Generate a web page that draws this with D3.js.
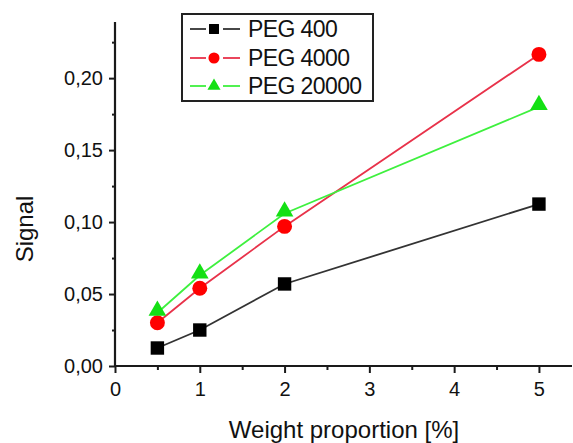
<!DOCTYPE html>
<html>
<head>
<meta charset="utf-8">
<script src="https://cdn.jsdelivr.net/npm/d3@7"></script>
<style>
  html, body { margin: 0; padding: 0; background: #fff; }
  text { font-family: "Liberation Sans", Arial, sans-serif; fill: #111; }
</style>
</head>
<body>
<svg id="chart" width="573" height="443"></svg>
<script>
const xValues = [0.5, 1, 2, 5];
const seriesNames = ["PEG 400", "PEG 4000", "PEG 20000"];
const peg400 = [0.0125, 0.025, 0.057, 0.1125];
const peg4000 = [0.030, 0.054, 0.097, 0.2165];
const peg20000 = [0.037, 0.063, 0.106, 0.180];
const xTicks = [0, 1, 2, 3, 4, 5];
const yTicks = [0, 0.05, 0.10, 0.15, 0.20];
const xTitle = "Weight proportion [%]";
const yTitle = "Signal";

const svg = d3.select("#chart");
const x = d3.scaleLinear().domain([0, 5.39]).range([115, 572]);
const y = d3.scaleLinear().domain([0, 0.239]).range([366, 22]);

const styles = [
  {line: "#333333", fill: "#000000", shape: d3.symbolSquare, size: 180},
  {line: "#e8324a", fill: "#ff0000", shape: d3.symbolCircle, size: 175},
  {line: "#3ef03e", fill: "#14e014", shape: d3.symbolTriangle, size: 135}
];
const seriesData = [peg400, peg4000, peg20000];

// axes
const fmt = v => d3.format(".2f")(v).replace(".", ",");
const yAxis = svg.append("g").attr("transform", "translate(115,0)")
  .call(d3.axisLeft(y).tickValues(yTicks).tickFormat(fmt).tickSize(6).tickPadding(6));
const yMinor = svg.append("g").attr("transform", "translate(115,0)")
  .call(d3.axisLeft(y).tickValues([0.025, 0.075, 0.125, 0.175, 0.225]).tickFormat("").tickSize(3));
const xAxis = svg.append("g").attr("transform", "translate(0,366)")
  .call(d3.axisBottom(x).tickValues(xTicks).tickFormat(d3.format("d")).tickSize(7).tickPadding(9));
const xMinor = svg.append("g").attr("transform", "translate(0,366)")
  .call(d3.axisBottom(x).tickValues([0.5, 1.5, 2.5, 3.5, 4.5]).tickFormat("").tickSize(4));

[yAxis, yMinor, xAxis, xMinor].forEach(g => {
  g.selectAll("path.domain").attr("stroke", "#1a1a1a").attr("stroke-width", 2.2);
  g.selectAll(".tick line").attr("stroke", "#1a1a1a").attr("stroke-width", 2);
  g.selectAll("text").style("font-size", "20px").attr("fill", "#111");
});
yAxis.select("path.domain").attr("d", `M0,${y(0)}V22`);
yMinor.select("path.domain").remove();
xAxis.select("path.domain").attr("d", `M115,0H572`);
xMinor.select("path.domain").remove();

// titles
svg.append("text").attr("x", 344).attr("y", 438)
  .attr("text-anchor", "middle").style("font-size", "24px").text(xTitle);
svg.append("text").attr("transform", "translate(33,229) rotate(-90)")
  .attr("text-anchor", "middle").style("font-size", "24px").text(yTitle);

// series
const lineGen = d3.line().x(d => x(d[0])).y(d => y(d[1]));
seriesData.forEach((vals, i) => {
  const pts = xValues.map((xv, j) => [xv, vals[j]]);
  svg.append("path").datum(pts).attr("d", lineGen)
    .attr("fill", "none").attr("stroke", styles[i].line).attr("stroke-width", 1.8);
});
seriesData.forEach((vals, i) => {
  const pts = xValues.map((xv, j) => [xv, vals[j]]);
  const sym = d3.symbol().type(styles[i].shape).size(styles[i].size);
  svg.append("g").selectAll("path").data(pts).join("path")
    .attr("d", sym)
    .attr("transform", d => `translate(${x(d[0])},${y(d[1]) + (i === 2 ? -2 : 0)})`)
    .attr("fill", styles[i].fill);
});

// legend
const lg = svg.append("g");
lg.append("rect").attr("x", 182).attr("y", 14).attr("width", 191).attr("height", 87)
  .attr("fill", "#fff").attr("stroke", "#222").attr("stroke-width", 2);
const rowY = [29, 58, 86];
seriesNames.forEach((name, i) => {
  const ry = rowY[i];
  lg.append("line").attr("x1", 190).attr("x2", 206).attr("y1", ry).attr("y2", ry)
    .attr("stroke", styles[i].line).attr("stroke-width", 1.8);
  lg.append("line").attr("x1", 223).attr("x2", 240).attr("y1", ry).attr("y2", ry)
    .attr("stroke", styles[i].line).attr("stroke-width", 1.8);
  const sym = d3.symbol().type(styles[i].shape).size(styles[i].size * 0.55);
  lg.append("path").attr("d", sym).attr("transform", `translate(214,${ry})`)
    .attr("fill", styles[i].fill);
  lg.append("text").attr("x", 248).attr("y", ry + 8)
    .style("font-size", "23px").style("letter-spacing", "-0.6px").text(name);
});
</script>
</body>
</html>
